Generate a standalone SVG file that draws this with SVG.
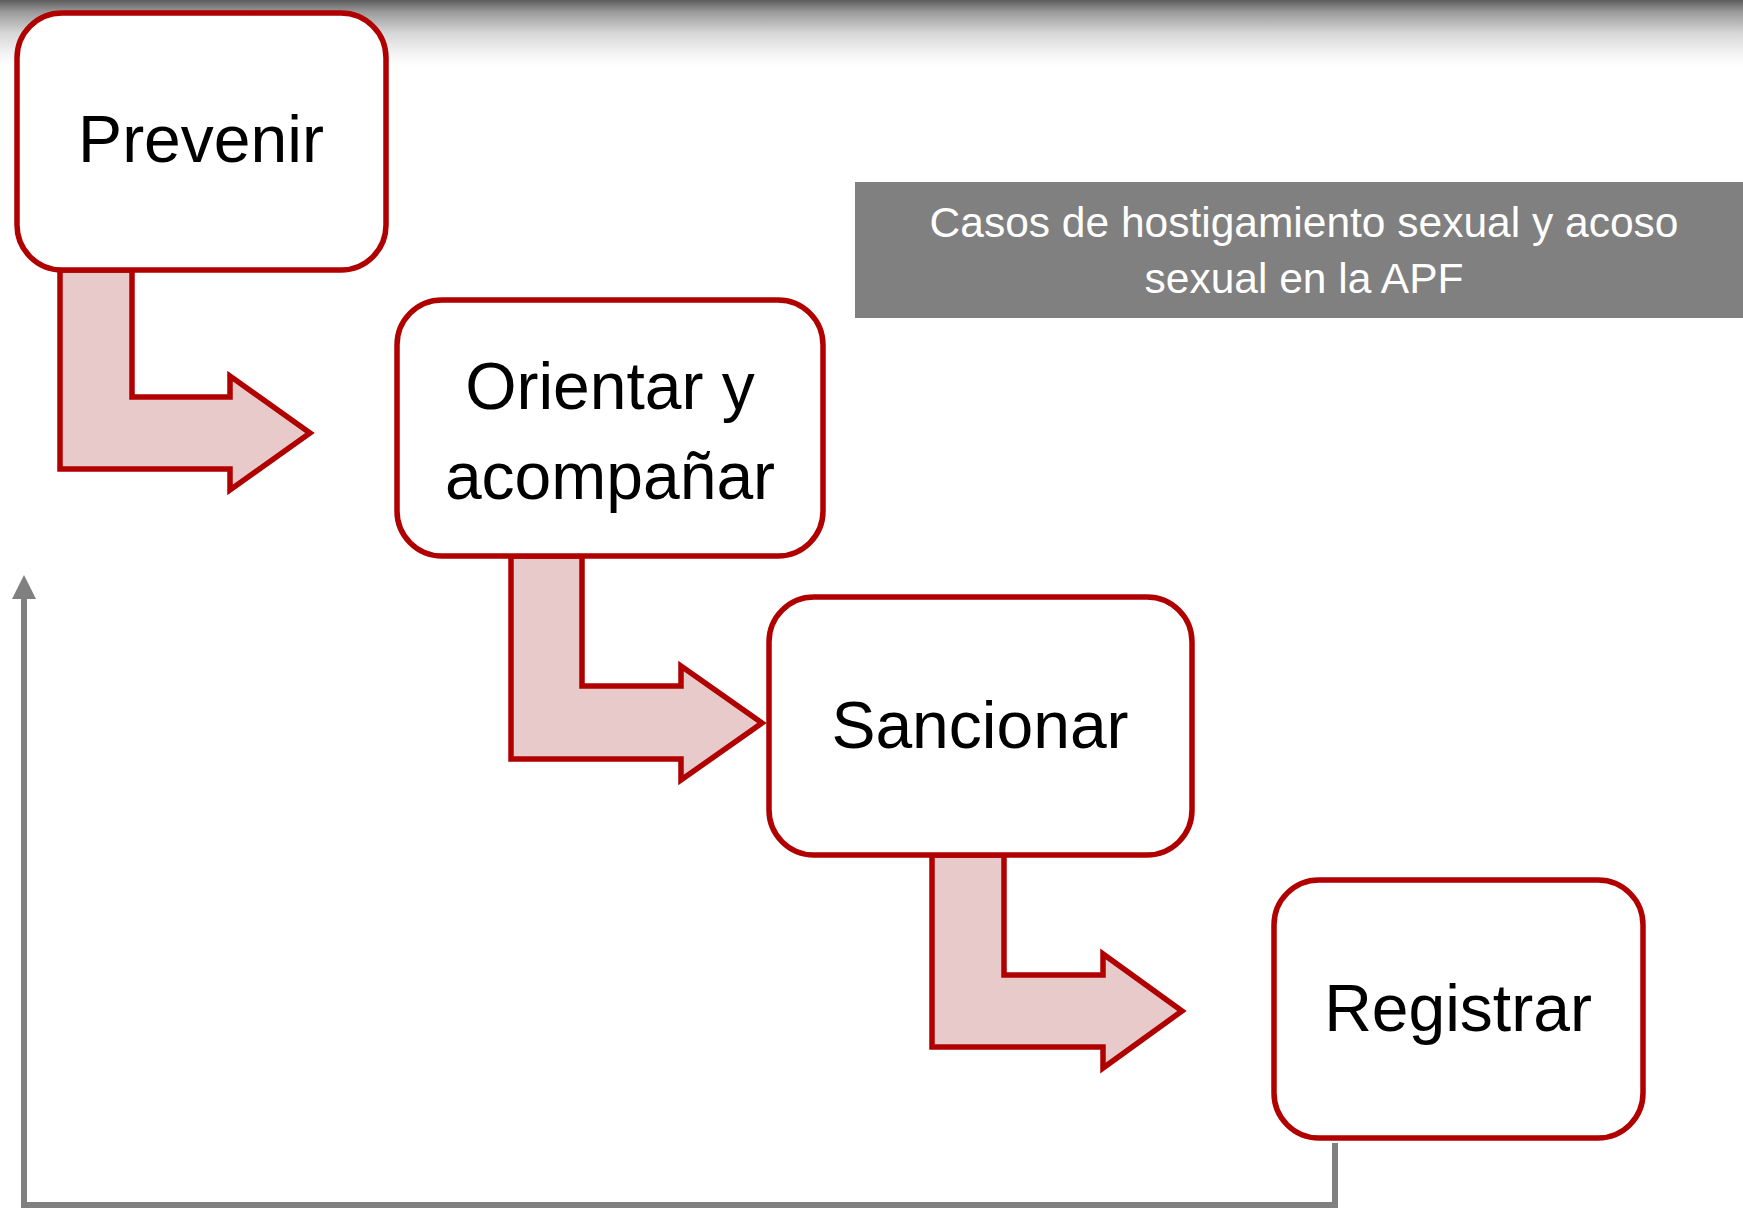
<svg xmlns="http://www.w3.org/2000/svg" width="1743" height="1209" viewBox="0 0 1743 1209">
<defs>
<linearGradient id="topband" x1="0" y1="0" x2="0" y2="1">
<stop offset="0" stop-color="#5c5c5c"/>
<stop offset="0.18" stop-color="#9a9a9a"/>
<stop offset="0.5" stop-color="#d6d6d6"/>
<stop offset="0.8" stop-color="#f3f3f3"/>
<stop offset="1" stop-color="#ffffff"/>
</linearGradient>
<marker id="greyhead" viewBox="0 0 24 24" refX="0" refY="12" markerWidth="24" markerHeight="24" markerUnits="userSpaceOnUse" orient="auto">
<path d="M0,0 L24,12 L0,24 Z" fill="#808080"/>
</marker>
</defs>
<style>
.box{fill:#ffffff;stroke:#b00000;stroke-width:5.5}
.bent{fill:#e8caca;stroke:#b00000;stroke-width:5.5;stroke-linejoin:miter}
.lbl{font-family:"Liberation Sans",Arial,sans-serif;font-size:66px;fill:#000000;text-anchor:middle}
.ttl{font-family:"Liberation Sans",Arial,sans-serif;font-size:42.5px;fill:#ffffff;text-anchor:middle}
.feedback{fill:none;stroke:#808080;stroke-width:6}
</style>
<rect x="0" y="0" width="1743" height="1209" fill="#ffffff"/>
<rect x="0" y="0" width="1743" height="66" fill="url(#topband)"/>

<g id="title">
<rect x="855" y="182" width="888" height="136" fill="#808080"/>
<text class="ttl" x="1304" y="237">Casos de hostigamiento sexual y acoso</text>
<text class="ttl" x="1304" y="293">sexual en la APF</text>
</g>

<g id="connectors">
<polygon class="bent" points="60,270 132,270 132,397 230,397 230,376 310,433 230,490 230,469 60,469"/>
<polygon class="bent" points="511,556 582,556 582,686 681,686 681,666 762,723 681,780 681,759 511,759"/>
<polygon class="bent" points="932,855 1004,855 1004,975 1103,975 1103,954 1182,1011 1103,1068 1103,1047 932,1047"/>
<path class="feedback" d="M1335,1143 V1205 H24 V599" marker-end="url(#greyhead)"/>
</g>

<g id="node-prevenir">
<rect class="box" x="17" y="13" width="369" height="257" rx="45" ry="45"/>
<text class="lbl" x="201" y="162">Prevenir</text>
</g>

<g id="node-orientar">
<rect class="box" x="397" y="300" width="426" height="256" rx="45" ry="45"/>
<text class="lbl" x="610" y="409">Orientar y</text>
<text class="lbl" x="610" y="499">acompañar</text>
</g>

<g id="node-sancionar">
<rect class="box" x="769" y="597" width="423" height="258" rx="45" ry="45"/>
<text class="lbl" x="980" y="748">Sancionar</text>
</g>

<g id="node-registrar">
<rect class="box" x="1274" y="880" width="369" height="258" rx="45" ry="45"/>
<text class="lbl" x="1458" y="1031">Registrar</text>
</g>
</svg>
